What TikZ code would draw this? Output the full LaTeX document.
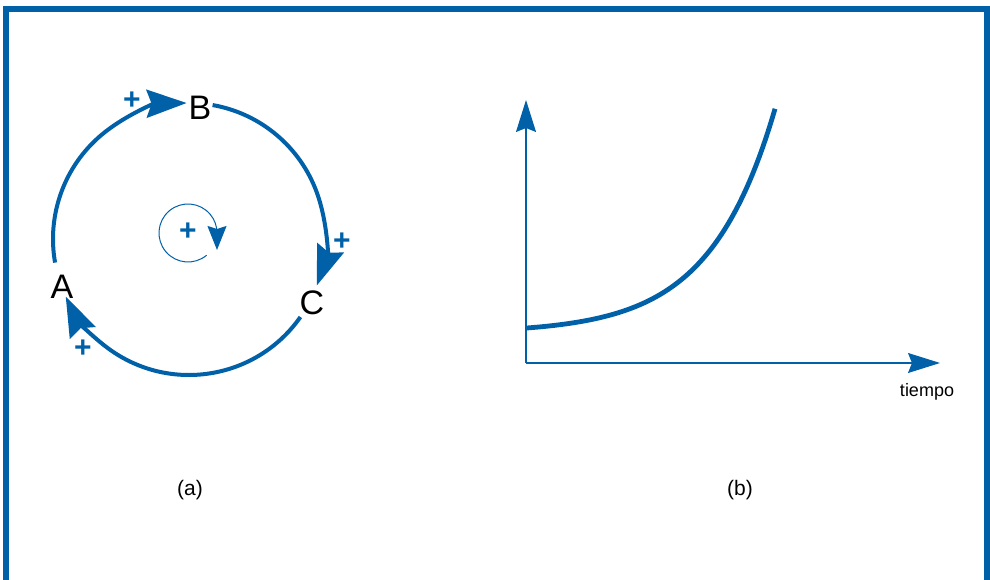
\documentclass[tikz,border=0pt]{standalone}
\usepackage{fontspec}
\setmainfont{Liberation Sans}
\usepackage{tikz}
\usetikzlibrary{arrows.meta}
\definecolor{loopblue}{RGB}{0,96,168}

\begin{document}
\begin{tikzpicture}[x=1pt,y=1pt,
  loopline/.style={loopblue,line width=4pt,-{Stealth[length=40pt,width=28pt,inset=5pt]}},
  axisline/.style={loopblue,line width=1.2pt,-{Stealth[length=32pt,width=20pt,inset=4pt]}},
  varlabel/.style={font=\fontsize{34}{34}\selectfont,inner sep=0pt},
  polarity/.style={loopblue,font=\fontsize{30}{30}\selectfont\bfseries,inner sep=0pt}]
\useasboundingbox (0,0) rectangle (990,580);
\draw[loopblue,line width=5.5pt] (6,0) |- (987,571) -- (987,0);
% (a) causal loop
\coordinate (o) at (189,341);
\node[varlabel] (A) at (62,293) {A};
\node[varlabel] (B) at (200,472) {B};
\node[varlabel] (C) at (312,277) {C};
\draw[loopline] (o) ++(190:136) arc[start angle=190,end angle=91,radius=136];
\draw[loopline] (o) ++(80:136) arc[start angle=80,end angle=-20,radius=136];
\draw[loopline] (o) ++(-35:136) arc[start angle=-35,end angle=-155,radius=136];
\node[polarity] (pAB) at (132,479) {+};
\node[polarity] (pBC) at (342,338) {+};
\node[polarity] (pCA) at (83,231) {+};
\coordinate (m) at (188,347);
\draw[loopblue,line width=1pt,-{Stealth[length=24pt,width=19pt,inset=3pt]}]
  (m) ++(-50:29) arc[start angle=-50,end angle=-360,radius=29] -- ++(0,-17);
\node[polarity] (pm) at (188,348) {+};
\node[font=\fontsize{21}{21}\selectfont] (capa) at (190,90) {(a)};
% (b) exponential growth
\coordinate (org) at (526,217);
\coordinate (ytip) at (526,480);
\coordinate (xtip) at (940,217);
\draw[axisline] (org) -- (ytip);
\draw[axisline] (org) -- (xtip);
\node[font=\fontsize{18}{18}\selectfont] (t) at (927,188) {tiempo};
\draw[loopblue,line width=4.8pt] plot[domain=527:775,samples=80]
  (\x,{247+5*exp(0.01534*(\x-527))});
\node[font=\fontsize{21}{21}\selectfont] (capb) at (740,90) {(b)};
\end{tikzpicture}
\end{document}
